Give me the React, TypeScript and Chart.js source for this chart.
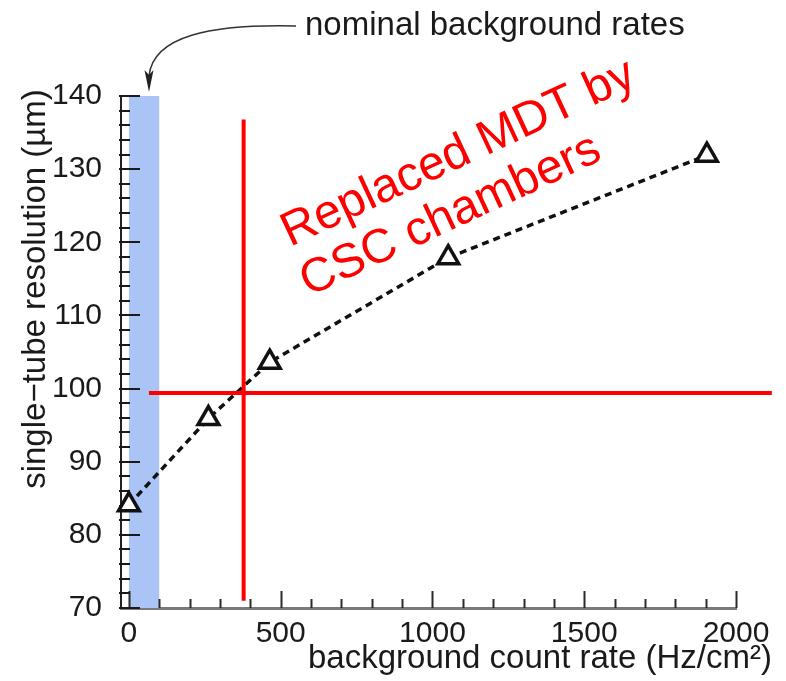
import { useEffect, useRef } from "react";
import { Chart, registerables } from "chart.js";

Chart.register(...registerables);

// ---- data ----
const rates = [0, 262, 464, 1052, 1904];
const resolution = [84.1, 95.9, 103.6, 117.9, 131.9];

const xTickValues = [0, 500, 1000, 1500, 2000];
const yTickValues = [70, 80, 90, 100, 110, 120, 130, 140];
const xMinorStep = 100;
const yMinorStep = 2;
const xRange = [-26, 2000];
const yRange = [70, 140];

const nominalBand = [0, 100];
const verticalCutX = [378, 378];
const verticalCutY = [136.8, 71];
const horizontalCutX = [66, 2118];
const horizontalCutY = [99.4, 99.4];

const xTitle = "background count rate (Hz/cm²)";
const yTitle = "single\u2212tube resolution (µm)";
const noteText = "nominal background rates";
const redLines = ["Replaced MDT by", "CSC chambers"];

const FONT = "'Liberation Sans', Arial, sans-serif";

const decor = {
  id: "decor",
  beforeDatasetsDraw(chart: any) {
    const { ctx, chartArea } = chart;
    const xs = chart.scales.x;
    const ys = chart.scales.y;
    ctx.save();
    // nominal band
    const b0 = xs.getPixelForValue(nominalBand[0]);
    const b1 = xs.getPixelForValue(nominalBand[1]);
    ctx.fillStyle = "rgb(170,196,246)";
    ctx.fillRect(b0, chartArea.top, b1 - b0, chartArea.bottom - chartArea.top);

    // inward ticks
    ctx.lineWidth = 2;
    ctx.strokeStyle = "#2a2a2a";
    for (let v = 0; v <= xRange[1]; v += xMinorStep) {
      const major = xTickValues.includes(v);
      const px = Math.round(xs.getPixelForValue(v)) + 0.5;
      ctx.beginPath();
      ctx.moveTo(px, chartArea.bottom);
      ctx.lineTo(px, chartArea.bottom - (major ? 17 : 9));
      ctx.stroke();
    }
    ctx.strokeStyle = "#1a1a1a";
    for (let v = yRange[0]; v <= yRange[1]; v += yMinorStep) {
      const major = yTickValues.includes(v);
      const py = Math.round(ys.getPixelForValue(v));
      ctx.beginPath();
      ctx.moveTo(chartArea.left - 2, py);
      ctx.lineTo(chartArea.left + (major ? 19 : 9), py);
      ctx.stroke();
    }
    ctx.restore();
  },
  afterDraw(chart: any) {
    const { ctx } = chart;
    ctx.save();
    // axis titles
    ctx.fillStyle = "#1a1a1a";
    ctx.font = `33px ${FONT}`;
    ctx.textAlign = "right";
    ctx.textBaseline = "alphabetic";
    ctx.fillText(xTitle, 772, 668);

    ctx.save();
    ctx.translate(45, 289);
    ctx.rotate(-Math.PI / 2);
    ctx.textAlign = "center";
    ctx.fillText(yTitle, 0, 0);
    ctx.restore();

    // annotation
    ctx.textAlign = "left";
    ctx.fillText(noteText, 305, 35);
    ctx.strokeStyle = "#333";
    ctx.lineWidth = 1.5;
    ctx.beginPath();
    ctx.moveTo(296, 26);
    ctx.bezierCurveTo(210, 24, 153, 36, 149, 76);
    ctx.stroke();
    ctx.fillStyle = "#222";
    ctx.beginPath();
    ctx.moveTo(149, 92);
    ctx.lineTo(144.5, 70);
    ctx.lineTo(149, 75);
    ctx.lineTo(153.5, 70);
    ctx.closePath();
    ctx.fill();

    // red text
    ctx.save();
    ctx.translate(290, 247);
    ctx.rotate((-25 * Math.PI) / 180);
    ctx.fillStyle = "#ff0000";
    ctx.font = `48px ${FONT}`;
    ctx.textAlign = "left";
    ctx.fillText(redLines[0], 0, 0);
    ctx.fillText(redLines[1], -4, 53);
    ctx.restore();

    ctx.restore();
  },
};

export default function App() {
  const ref = useRef<HTMLCanvasElement>(null);
  useEffect(() => {
    if (!ref.current) return;
    const chart = new Chart(ref.current, {
      type: "scatter",
      data: {
        datasets: [
          {
            data: verticalCutX.map((x, i) => ({ x, y: verticalCutY[i] })),
            showLine: true,
            borderColor: "#ff0000",
            borderWidth: 4,
            pointRadius: 0,
            clip: false,
          } as any,
          {
            data: horizontalCutX.map((x, i) => ({ x, y: horizontalCutY[i] })),
            showLine: true,
            borderColor: "#ff0000",
            borderWidth: 4,
            pointRadius: 0,
            clip: false,
          },
          {
            data: rates.map((x, i) => ({ x, y: resolution[i] })),
            showLine: true,
            borderColor: "#111",
            borderWidth: 3.5,
            borderDash: [7, 5],
            tension: 0,
            pointStyle: "triangle",
            pointRadius: 12,
            pointBorderWidth: 3.5,
            pointBorderColor: "#111",
            pointBackgroundColor: "#ffffff",
            clip: false,
          },
        ],
      },
      options: {
        animation: false,
        responsive: true,
        maintainAspectRatio: false,
        layout: { padding: { top: 96, right: 50, left: 0, bottom: 0 } },
        plugins: { legend: { display: false }, tooltip: { enabled: false } },
        scales: {
          x: {
            type: "linear",
            min: xRange[0],
            max: xRange[1],
            afterBuildTicks: (s: any) => {
              s.ticks = xTickValues.map((v) => ({ value: v }));
            },
            afterFit: (s: any) => {
              s.height = 73;
            },
            ticks: {
              font: { family: FONT, size: 30 },
              color: "#1a1a1a",
              padding: 0,
              maxRotation: 0,
              autoSkip: false,
              callback: (v: any) => String(v),
            },
            grid: { display: false },
            border: { display: true, color: "#7a7a7a", width: 3 },
          },
          y: {
            type: "linear",
            min: yRange[0],
            max: yRange[1],
            afterBuildTicks: (s: any) => {
              s.ticks = yTickValues.map((v) => ({ value: v }));
            },
            afterFit: (s: any) => {
              s.width = 121;
            },
            ticks: {
              font: { family: FONT, size: 30 },
              color: "#1a1a1a",
              padding: 11,
              autoSkip: false,
              callback: (v: any) => String(v),
            },
            grid: { display: false },
            border: { display: true, color: "#222", width: 2 },
          },
        },
      },
      plugins: [decor],
    } as any);
    return () => chart.destroy();
  }, []);
  return (
    <div style={{ position: "absolute", left: 0, top: 0, width: 786, height: 681, background: "#fff" }}>
      <canvas ref={ref} />
    </div>
  );
}
